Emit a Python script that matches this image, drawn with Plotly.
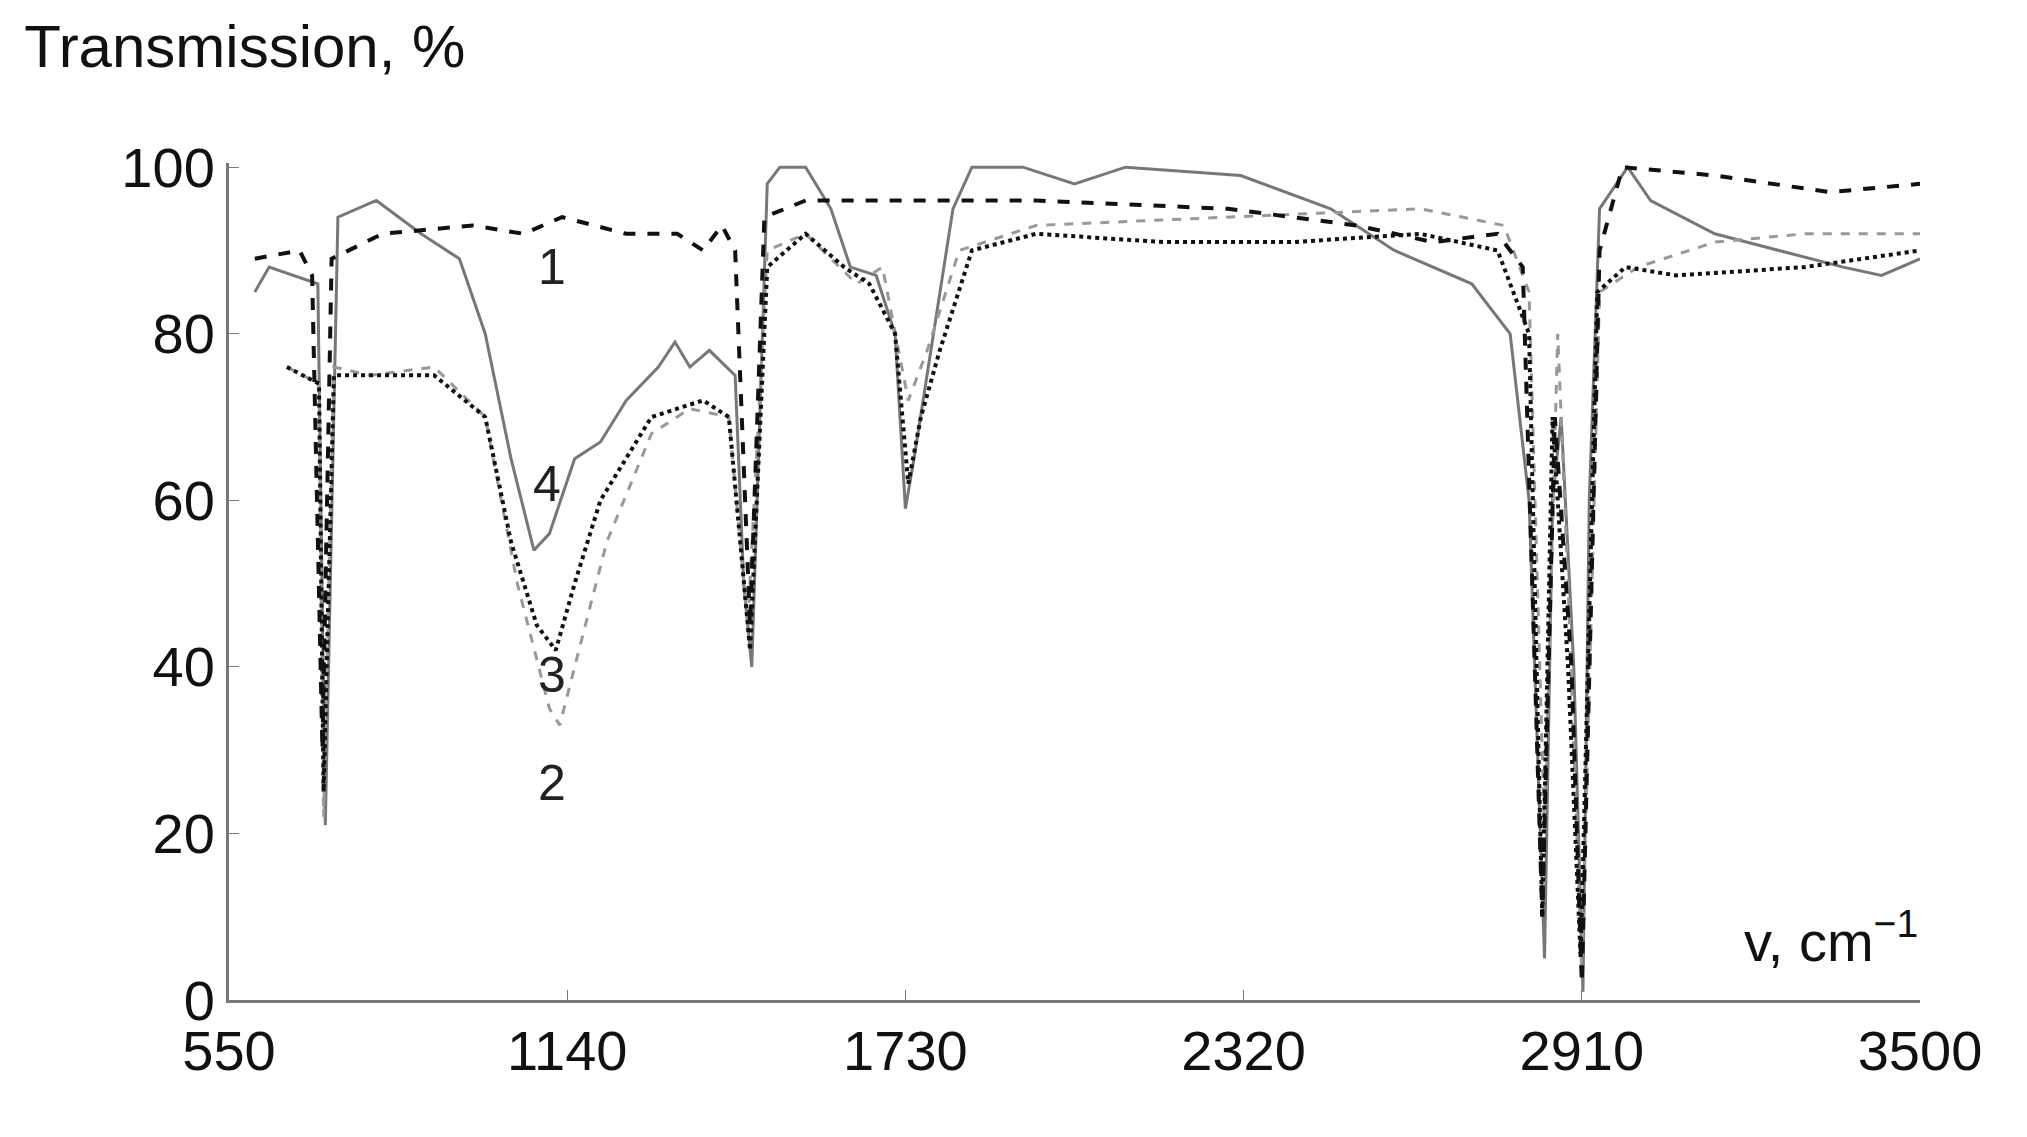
import plotly.graph_objects as go

# curve 1: black dashed
w1 = [595, 673, 695, 713, 729, 818, 975, 1064, 1131, 1243, 1332, 1377, 1410, 1433, 1459, 1484,
      1556, 1735, 1958, 2293, 2517, 2651, 2763, 2807, 2841, 2863, 2892, 2910, 2941, 2981, 3142, 3343, 3500]
t1 = [89, 90, 87, 30, 89, 92, 93, 92, 94, 92, 92, 90, 93, 90, 45, 94,
      96, 96, 96, 95, 93, 91, 92, 88, 10, 70, 40, 2, 90, 100, 99, 97, 98]

# curve 2: gray dashed
w2 = [651, 707, 715, 733, 796, 908, 997, 1053, 1109, 1127, 1153, 1209, 1287, 1354, 1422, 1455, 1489,
      1556, 1600, 1645, 1690, 1735, 1768, 1824, 1958, 2293, 2628, 2774, 2818, 2845, 2868, 2886, 2910,
      2941, 3008, 3142, 3299, 3500]
t2 = [76, 74, 22, 76, 75, 76, 70, 50, 35, 33, 40, 55, 68, 71, 70, 45, 90,
      92, 89, 86, 88, 72, 78, 90, 93, 94, 95, 93, 85, 20, 80, 50, 3,
      85, 88, 91, 92, 92]

# curve 3: black dotted
w3 = [651, 707, 715, 733, 908, 997, 1042, 1087, 1120, 1153, 1198, 1287, 1377, 1422, 1459, 1489,
      1556, 1623, 1667, 1712, 1735, 1757, 1790, 1846, 1958, 2181, 2405, 2628, 2763, 2818, 2841, 2859,
      2886, 2908, 2937, 2986, 3075, 3299, 3500]
t3 = [76, 74, 25, 75, 75, 70, 55, 45, 42, 50, 60, 70, 72, 70, 42, 88,
      92, 88, 86, 80, 62, 70, 78, 90, 92, 91, 91, 92, 90, 80, 10, 70,
      40, 5, 85, 88, 87, 88, 90]

# curve 4: gray solid
w4 = [595, 620, 705, 718, 740, 807, 885, 952, 997, 1042, 1082, 1109, 1153, 1198, 1243, 1299, 1328,
      1354, 1388, 1433, 1448, 1462, 1489, 1511, 1556, 1600, 1634, 1679, 1712, 1730, 1745, 1779, 1813,
      1846, 1935, 2025, 2114, 2315, 2472, 2583, 2718, 2785, 2818, 2845, 2859, 2874, 2896, 2912, 2923,
      2941, 2990, 3030, 3142, 3254, 3366, 3433, 3500]
t4 = [85, 88, 86, 21, 94, 96, 92, 89, 80, 65, 54, 56, 65, 67, 72, 76, 79,
      76, 78, 75, 50, 40, 98, 100, 100, 95, 88, 87, 80, 59, 65, 80, 95,
      100, 100, 98, 100, 99, 95, 90, 86, 80, 60, 5, 60, 70, 40, 1, 60,
      95, 100, 96, 92, 90, 88, 87, 89]

curve_labels = ["1", "2", "3", "4"]
label_x = [1113, 1113, 1113, 1104]
label_y = [88, 26, 39, 62]

fig = go.Figure()
fig.add_trace(go.Scatter(x=w4, y=t4, mode="lines", line=dict(color="#777777", width=3)))
fig.add_trace(go.Scatter(x=w2, y=t2, mode="lines", line=dict(color="#999999", width=3, dash="dash")))
fig.add_trace(go.Scatter(x=w3, y=t3, mode="lines", line=dict(color="#111111", width=4, dash="dot")))
fig.add_trace(go.Scatter(x=w1, y=t1, mode="lines", line=dict(color="#111111", width=4, dash="dash")))

for lab, lx, ly in zip(curve_labels, label_x, label_y):
    fig.add_annotation(x=lx, y=ly, text=lab, showarrow=False,
                       font=dict(size=50, color="#222222", family="Liberation Sans"))

fig.add_annotation(x=3500, y=3, xanchor="right", yanchor="bottom", text="v, cm<sup>−1</sup>",
                   showarrow=False, font=dict(size=56, color="#111111", family="Liberation Sans"))

fig.update_layout(
    width=2027, height=1137, showlegend=False,
    plot_bgcolor="white", paper_bgcolor="white",
    margin=dict(l=221, r=115, t=155, b=145),
    font=dict(family="Liberation Sans", size=56, color="#111111"),
    title=dict(text="Transmission, %", x=0.008, y=0.985, xref="paper", yref="container",
               xanchor="left", yanchor="top",
               font=dict(size=60, color="#111111", family="Liberation Sans")),
)
fig.update_layout(title_x=0.008, title_xref="container")
fig.update_xaxes(range=[550, 3500], tickvals=[550, 1140, 1730, 2320, 2910, 3500],
                 showgrid=False, showline=True, linecolor="#777777", linewidth=3,
                 ticks="inside", ticklen=10, tickcolor="#777777", zeroline=False)
fig.update_yaxes(range=[0, 100.5], tickvals=[0, 20, 40, 60, 80, 100],
                 showgrid=False, showline=True, linecolor="#777777", linewidth=3,
                 ticks="inside", ticklen=10, tickcolor="#777777", zeroline=False)

fig.write_html("out.html")
